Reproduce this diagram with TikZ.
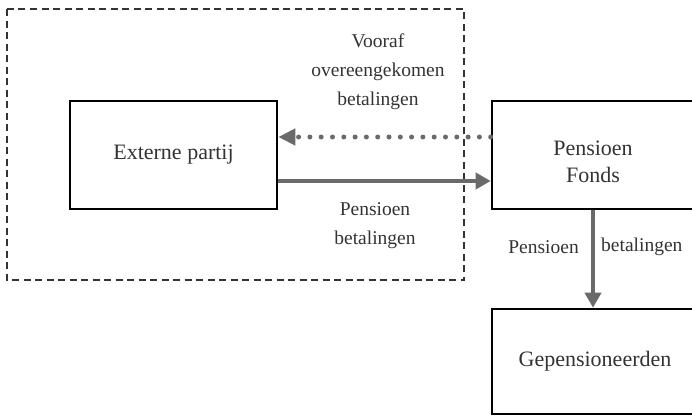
\documentclass[tikz,border=0pt]{standalone}
\usepackage{fontspec}
\setmainfont{Liberation Serif}
\usepackage{tikz}
\usetikzlibrary{arrows.meta}

\definecolor{arrowgray}{HTML}{6A6A6A}
\definecolor{textgray}{HTML}{333333}

\begin{document}
\begin{tikzpicture}[x=1pt, y=-1pt,
	party/.style = {draw = black, line width = 2.6pt, text = textgray, align = center,
		font = \fontsize{22}{27}\selectfont},
	flowlabel/.style = {text = textgray, align = center, inner sep = 0pt,
		font = \fontsize{19.5}{29}\selectfont},
	flow/.style = {draw = arrowgray, line width = 4pt, -{Triangle[length = 15pt, width = 16pt]}}
]
\useasboundingbox (0, 0) rectangle (692, 416);
%\draw[red] (0, 0) rectangle (692, 416);

% outer dashed region
\draw[textgray, line width = 1.5pt, dash pattern = on 7pt off 4.5pt] (7, 9) rectangle (464, 280);

\node[party, minimum width = 207pt, minimum height = 108pt] (extern) at (173.5, 155) {Externe partij};
\node[party, minimum width = 206pt, minimum height = 108pt, text depth = 0pt] (fonds) at (595, 155) {};
\node[text = textgray, align = center, font = \fontsize{22}{27}\selectfont] (fondstext) at (593, 162) {Pensioen\\Fonds};
\node[party, minimum width = 206pt, minimum height = 105pt] (gepens) at (595, 361.5) {Gepensioneerden};

% payments
\draw[flow, line width = 5pt, line cap = round, dash pattern = on 0pt off 11.3pt,
	-{Triangle[length = 17pt, width = 16pt]}] ([yshift = 18pt]fonds.west) -- ([yshift = 18pt]extern.east);
\draw[flow] ([yshift = -26pt]extern.east) -- ([yshift = -26pt]fonds.west);
\draw[flow] (fonds.south -| 593, 0) -- (gepens.north -| 593, 0);

\node[flowlabel] (vooraf) at (378, 72) {Vooraf\\overeengekomen\\betalingen};
\node[flowlabel] (pensioen) at (375, 226) {Pensioen\\betalingen};
\node[flowlabel, anchor = east] (pensioenv) at (579, 247) {Pensioen};
\node[flowlabel, anchor = west] (betalingenv) at (601, 247) {betalingen};
\end{tikzpicture}
\end{document}
